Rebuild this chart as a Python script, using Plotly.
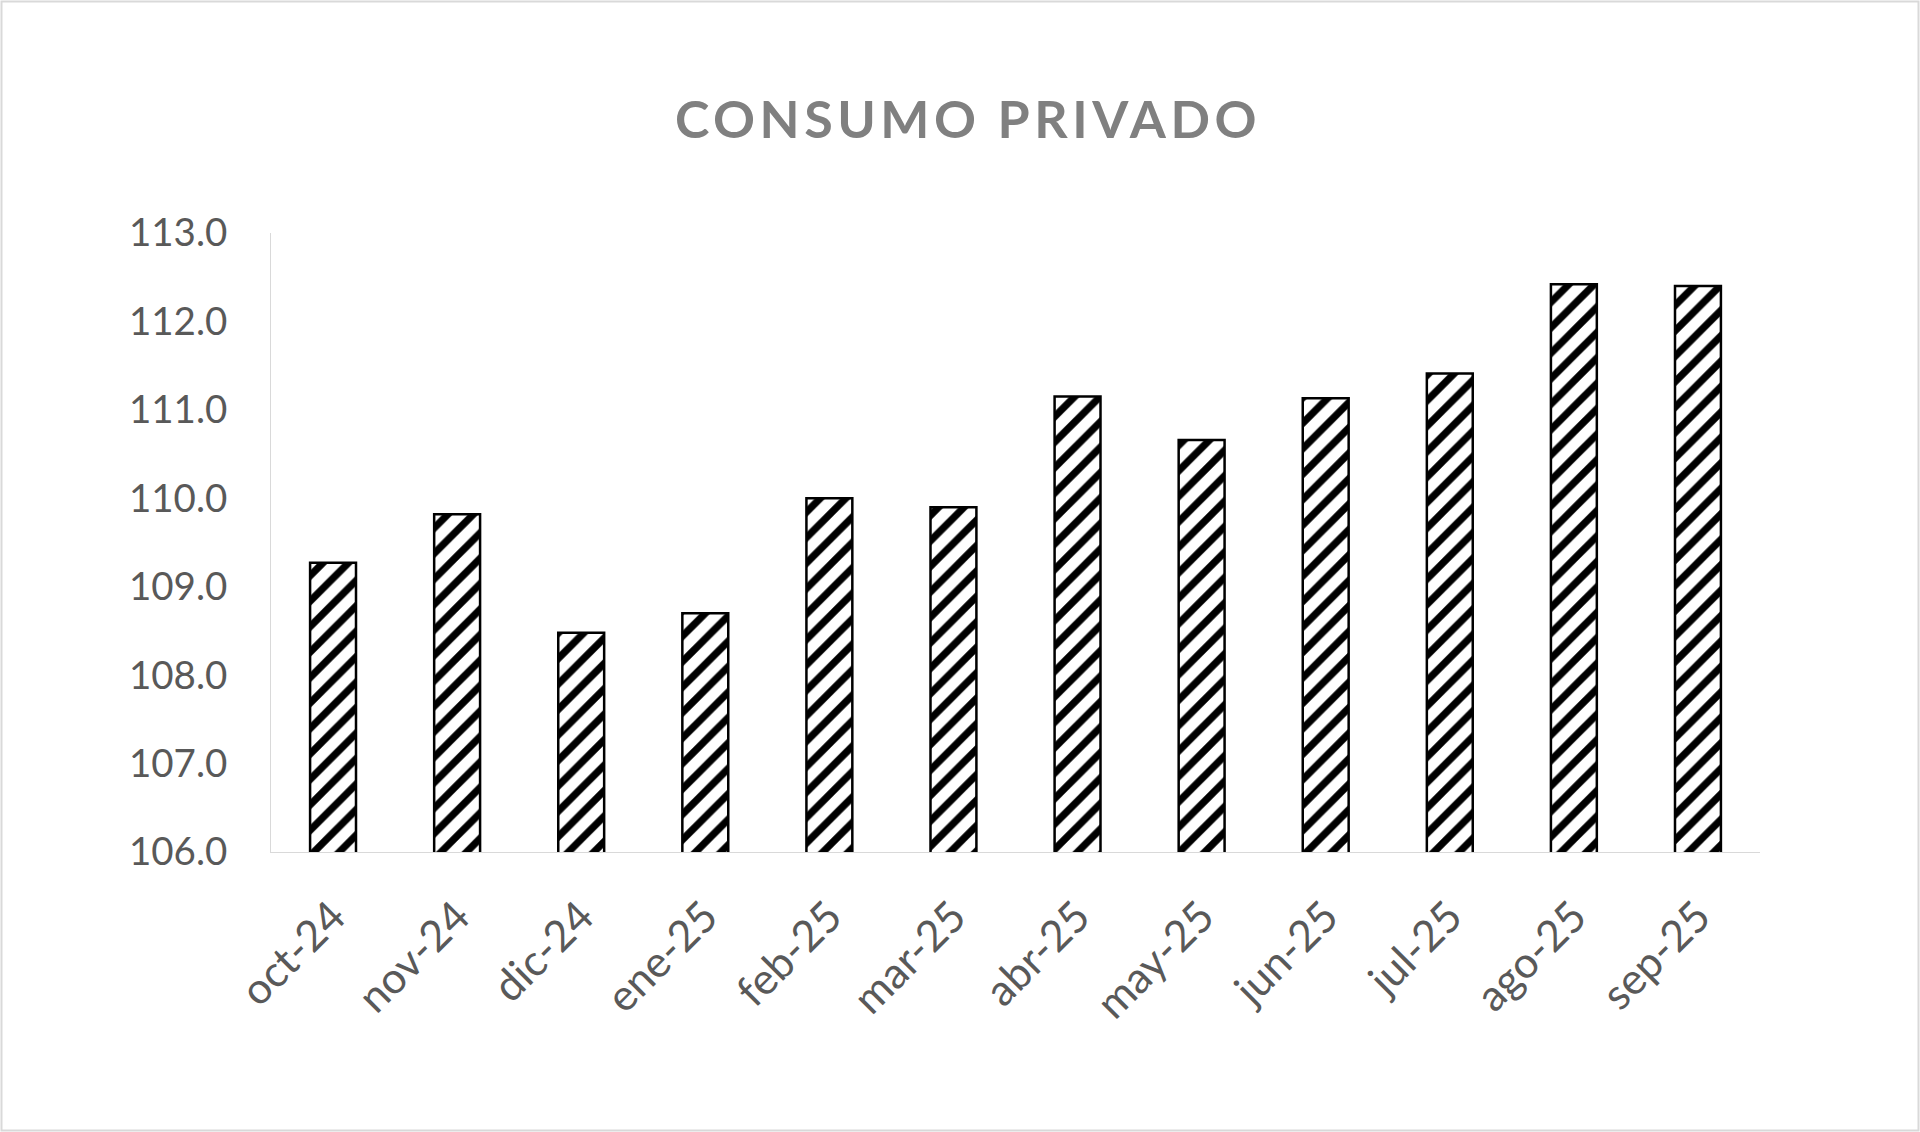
import plotly.graph_objects as go

# monthly index
meses = ['oct-24', 'nov-24', 'dic-24', 'ene-25', 'feb-25', 'mar-25',
         'abr-25', 'may-25', 'jun-25', 'jul-25', 'ago-25', 'sep-25']
consumo = [109.27, 109.82, 108.48, 108.70, 110.00, 109.90,
           111.15, 110.66, 111.13, 111.41, 112.42, 112.40]
y_ticks = [106, 107, 108, 109, 110, 111, 112, 113]

W, H = 1920, 1132
ml, mr, mt, mb = 271, 160, 233, 280
pw, ph = W - ml - mr, H - mt - mb

fig = go.Figure(go.Bar(
    x=meses,
    y=consumo,
    marker=dict(
        color='white',
        line=dict(color='black', width=2.5),
        pattern=dict(shape='/', fgcolor='black', bgcolor='white',
                     fgopacity=1, fillmode='replace',
                     size=18, solidity=0.4),
    ),
    hoverinfo='x+y',
))

fig.update_layout(
    width=W, height=H,
    margin=dict(l=ml, r=mr, t=mt, b=mb, pad=0),
    paper_bgcolor='white',
    plot_bgcolor='white',
    font=dict(family='Lato, Open Sans, sans-serif', color='#595959', size=38.5),
    title=dict(
        text='<span style="letter-spacing:4.5px">CONSUMO PRIVADO</span>',
        x=968 / W, xanchor='center', xref='container',
        y=1 - 120 / H, yanchor='middle',
        font=dict(family='Lato, Open Sans, sans-serif', size=52,
                  color='#808080', weight='bold'),
    ),
    bargap=0.63,
    showlegend=False,
    shapes=[dict(
        type='rect', xref='paper', yref='paper',
        x0=-(ml - 1.5) / pw, x1=1 + (mr - 1.5) / pw,
        y0=-(mb - 1.5) / ph, y1=1 + (mt - 1.5) / ph,
        line=dict(color='#d9d9d9', width=2),
        fillcolor='rgba(0,0,0,0)', layer='below',
    )],
)

fig.update_yaxes(
    range=[106, 113],
    tickvals=y_ticks,
    tickformat='.1f',
    showgrid=False,
    zeroline=False,
    showline=True, linecolor='#d9d9d9', linewidth=1,
    ticks='',
    ticklabelstandoff=35,
)

fig.update_xaxes(
    tickangle=-45,
    tickfont=dict(size=43),
    showgrid=False,
    showline=True, linecolor='#d9d9d9', linewidth=1,
    ticks='',
    ticklabelstandoff=21,
)

fig.write_html("out.html", config={'displayModeBar': False},
               post_script="document.body.style.margin='0';")
